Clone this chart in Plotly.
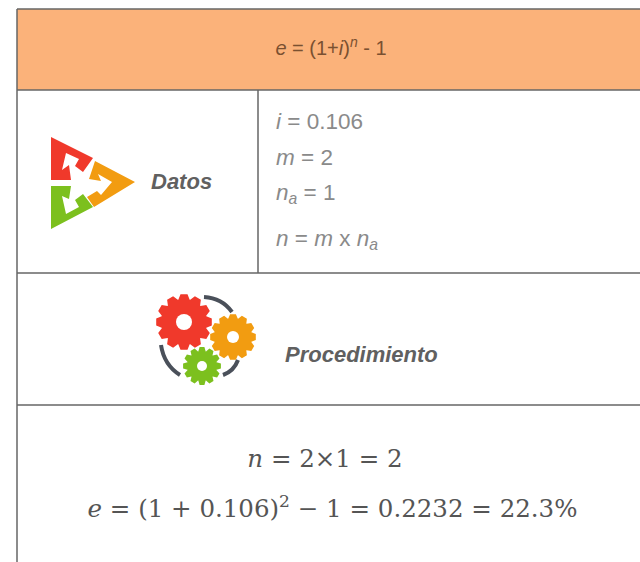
import math
import plotly.graph_objects as go

# Text content
header_formula = ["<i>e</i> = (1+<i>i</i>)<sup><i>n</i></sup> - 1"]
header_x, header_y = [331], [50]
label_texts = ["<b><i>Datos</i></b>", "<b><i>Procedimiento</i></b>"]
label_x, label_y = [151, 285], [183, 356]
data_lines = ["<i>i</i> = 0.106", "<i>m</i> = 2", "<i>n<sub>a</sub></i> = 1", "<i>n</i> = <i>m</i> x <i>n<sub>a</sub></i>"]
data_x, data_y = [276, 276, 276, 276], [123, 159, 194, 240]
result_lines = ["<i>n</i> = 2×1 = 2", "<i>e</i> = (1 + 0.106)<sup>2</sup> − 1 = 0.2232 = 22.3%"]
result_x, result_y = [325, 332.5], [461, 511]

# Icon outlines (picture pixels)
red_arrow = [(51,137),(93,158),(83,172),(75,166),(79,159),(66,153),(62,170),(69,165),(71,180),(51,180)]
orange_arrow = [(95,161),(135,182),(94,207),(87,197),(97,191),(101,195),(112,182),(98,174),(101,181),(89,179)]
green_arrow = [(51,186),(71,186),(69,199),(62,196),(66,214),(79,207),(75,200),(83,194),(93,207),(51,229)]
gears = [(184,322,28,23,8,"#f0392b"),(233,337,23,19,6,"#f29c11"),(202,366,19,15,5,"#7cc01e")]
arcs = [[(204,297),(222,298),(232,312)],[(161,345),(164,365),(180,375)],[(223,375),(234,371),(238,360)]]

def closed(points):
    return "M" + "L".join(f"{x},{y}" for x, y in points) + "Z"

def gear_path(cx, cy, r_out, r_in, teeth=12):
    pts = []
    step = 2 * math.pi / teeth
    for k in range(teeth):
        a = k * step
        for da, r in ((-0.3, r_in), (-0.15, r_out), (0.15, r_out), (0.3, r_in)):
            pts.append((round(cx + r * math.cos(a + da * step * 1.6), 1), round(cy + r * math.sin(a + da * step * 1.6), 1)))
    return closed(pts)

shapes = [
    dict(type="rect", x0=17, x1=640, y0=9, y1=90, fillcolor="#fbb27a", line_width=0, layer="below"),
]
line_col = "#666666"
for x0, y0, x1, y1 in [(17,9,640,9),(17,90,640,90),(17,273,640,273),(17,405,640,405),(17,9,17,562),(258,90,258,273)]:
    shapes.append(dict(type="line", x0=x0, x1=x1, y0=y0, y1=y1, line=dict(color=line_col, width=1.5)))
for pts, col in [(red_arrow,"#f0392b"),(orange_arrow,"#f29c11"),(green_arrow,"#7cc01e")]:
    shapes.append(dict(type="path", path=closed(pts), fillcolor=col, line_width=0))
for a in arcs:
    shapes.append(dict(type="path", path=f"M{a[0][0]},{a[0][1]}Q{a[1][0]},{a[1][1]} {a[2][0]},{a[2][1]}",
                       line=dict(color="#4a505a", width=4)))
for cx, cy, ro, ri, hole, col in gears:
    shapes.append(dict(type="path", path=gear_path(cx, cy, ro, ri), fillcolor=col, line_width=0))
    shapes.append(dict(type="circle", x0=cx-hole, x1=cx+hole, y0=cy-hole, y1=cy+hole, fillcolor="#ffffff", line_width=0))

def text_trace(xs, ys, texts, size, color, family="Liberation Sans", position="middle right"):
    return go.Scatter(x=xs, y=ys, text=texts, mode="text", textposition=position, hoverinfo="skip",
                      textfont=dict(family=family, size=size, color=color), cliponaxis=False)

fig = go.Figure([
    text_trace(header_x, header_y, header_formula, 20, "#7a5030", position="middle center"),
    text_trace(label_x, label_y, label_texts, 22, "#606060"),
    text_trace(data_x, data_y, data_lines, 22.5, "#8a8a8a"),
    text_trace(result_x, result_y, result_lines, 24.5, "#555555", family="DejaVu Serif", position="middle center"),
])
fig.update_layout(
    width=640, height=562, margin=dict(l=0, r=0, t=0, b=0),
    paper_bgcolor="#ffffff", plot_bgcolor="#ffffff", showlegend=False,
    xaxis=dict(range=[0, 640], visible=False, fixedrange=True),
    yaxis=dict(range=[562, 0], visible=False, fixedrange=True),
    shapes=shapes,
)
fig.write_html("out.html", config=dict(displayModeBar=False),
               post_script="document.body.style.margin='0';document.body.style.overflow='hidden';")
